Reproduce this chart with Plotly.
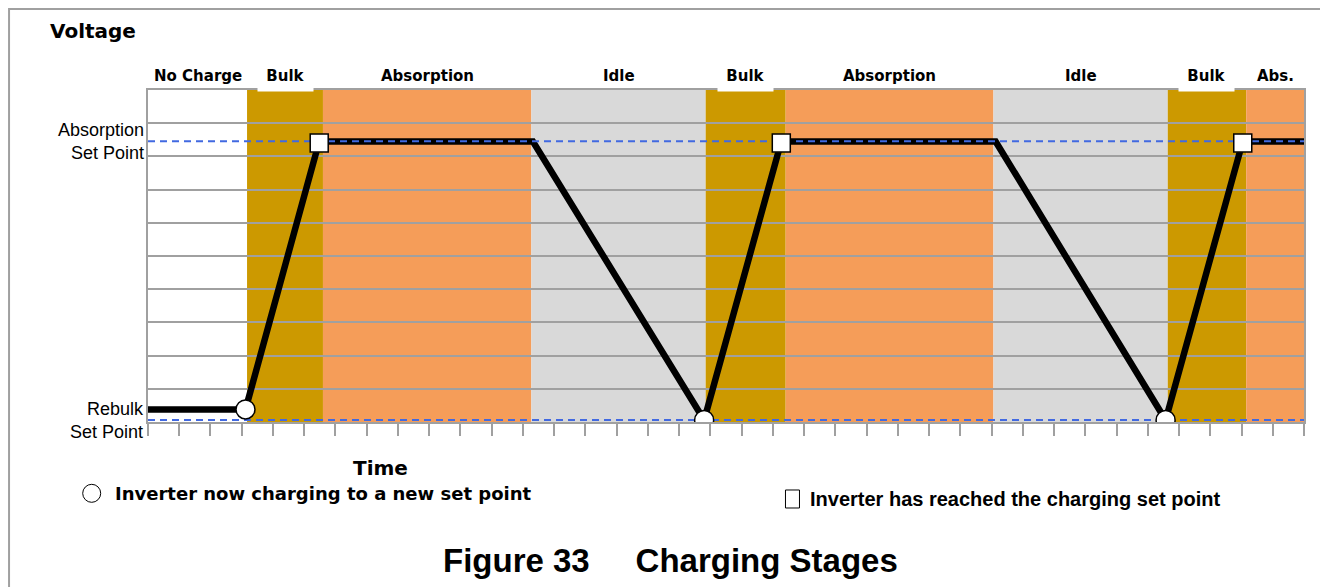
import plotly.graph_objects as go

# ---- data ----------------------------------------------------------------
# stage bands along the time axis (x in time units, 37 ticks across)
band_names = ["No Charge", "Bulk", "Absorption", "Idle", "Bulk",
              "Absorption", "Idle", "Bulk", "Abs."]
band_start = [0.0, 3.17, 5.60, 12.27, 17.85, 20.41, 27.06, 32.64, 35.15]
band_end = [3.17, 5.60, 12.27, 17.85, 20.41, 27.06, 32.64, 35.15, 37.0]
band_colors = ["#FFFFFF", "#CC9900", "#F59D59", "#D9D9D9", "#CC9900",
               "#F59D59", "#D9D9D9", "#CC9900", "#F59D59"]

# battery voltage trace
volt_x = [0.0, 3.12, 5.48, 12.32, 17.80, 20.27, 27.13, 32.57, 35.04, 37.0]
volt_y = [0.38, 0.38, 8.45, 8.45, 0.06, 8.45, 8.45, 0.06, 8.45, 8.45]

# set points
absorption_sp = 8.46
rebulk_sp = 0.06

# markers: circle = start charging, square = set point reached
circle_x = [3.12, 17.80, 32.57]
circle_y = [0.38, 0.06, 0.06]
square_x = [5.48, 20.27, 35.04]
square_y = [8.40, 8.40, 8.40]

X_MAX = 37
Y_MAX = 10

HEAVY = "DejaVu Sans"
NARROW = "Liberation Sans"
GRID = "#A0A0A0"
BLUE = "#4169E1"

fig = go.Figure()

# stage background bands
for x0, x1, c in zip(band_start, band_end, band_colors):
    fig.add_shape(type="rect", xref="x", yref="paper", x0=x0, x1=x1, y0=0, y1=1,
                  fillcolor=c, line_width=0, layer="below")

fig.add_trace(go.Scatter(x=volt_x, y=volt_y, mode="lines",
                         line=dict(color="black", width=6.5), hoverinfo="skip"))
for sp in (absorption_sp, rebulk_sp):
    fig.add_trace(go.Scatter(x=[0, X_MAX], y=[sp, sp], mode="lines",
                             line=dict(color=BLUE, width=2, dash="7px,5px"),
                             hoverinfo="skip"))
fig.add_trace(go.Scatter(x=circle_x, y=circle_y, mode="markers",
                         marker=dict(symbol="circle", size=19, color="white",
                                     line=dict(color="black", width=1.5))))
fig.add_trace(go.Scatter(x=square_x, y=square_y, mode="markers",
                         marker=dict(symbol="square", size=18, color="white",
                                     line=dict(color="black", width=1.5))))

# stage labels above the plot
for name, x0, x1 in zip(band_names, band_start, band_end):
    xc = (x0 + x1) / 2
    if name == "Bulk":
        # white box that hides the top border, like the original
        fig.add_annotation(x=xc, xref="x", xanchor="center", y=1, yref="paper",
                           yanchor="bottom", yshift=-2, text=name, showarrow=False,
                           width=53, height=28, bgcolor="white",
                           font=dict(family=HEAVY, size=15, weight="bold"))
    else:
        fig.add_annotation(x=xc, xref="x", xanchor="center", y=1.042, yref="paper",
                           yanchor="middle", text=name, showarrow=False,
                           font=dict(family=HEAVY, size=15, weight="bold"))

# set point labels on the left
for txt, yv in (("Absorption<br>Set Point", absorption_sp), ("Rebulk<br>Set Point", rebulk_sp)):
    fig.add_annotation(x=0, xref="paper", xanchor="right", xshift=-2, y=yv, yref="y",
                       yanchor="middle", align="right", text=txt, showarrow=False,
                       font=dict(family="Liberation Sans", size=18))

fig.add_annotation(x=-0.0865, xref="paper", xanchor="left", y=1.178, yref="paper",
                   yanchor="middle", text="Voltage", showarrow=False,
                   font=dict(family=HEAVY, size=20, weight="bold"))
fig.add_annotation(x=0.2007, xref="paper", xanchor="center", y=-0.1386, yref="paper",
                   yanchor="middle", text="Time", showarrow=False,
                   font=dict(family=HEAVY, size=20, weight="bold"))

# legend row
fig.add_shape(type="circle", xref="paper", yref="paper", xsizemode="pixel", ysizemode="pixel",
              xanchor=-0.0487, yanchor=-0.2148, x0=-9, x1=9, y0=-9, y1=9,
              line=dict(color="black", width=1), fillcolor="white")
fig.add_annotation(x=-0.0303, xref="paper", xanchor="left", y=-0.2148, yref="paper",
                   yanchor="middle", text="Inverter now charging to a new set point",
                   showarrow=False, font=dict(family=HEAVY, size=18, weight="bold"))
fig.add_shape(type="rect", xref="paper", yref="paper", xsizemode="pixel", ysizemode="pixel",
              xanchor=0.5575, yanchor=-0.2319, x0=-7, x1=7, y0=-9, y1=9,
              line=dict(color="black", width=1), fillcolor="white")
fig.add_annotation(x=0.5709, xref="paper", xanchor="left", y=-0.2319, yref="paper",
                   yanchor="middle", text="Inverter has reached the charging set point",
                   showarrow=False, font=dict(family=NARROW, size=20, weight="bold"))

# figure caption
fig.add_annotation(x=0.4516, xref="paper", xanchor="center", y=-0.4157, yref="paper",
                   yanchor="middle",
                   text="Figure 33\u00a0\u00a0\u00a0\u00a0\u00a0Charging Stages", showarrow=False,
                   font=dict(family=NARROW, size=33, weight="bold"))

# outer frame
fig.add_shape(type="rect", xref="paper", yref="paper", x0=-0.1202, x1=1.0156,
              y0=-0.6, y1=1.244, line=dict(color=GRID, width=2), layer="above")

fig.update_xaxes(range=[0, X_MAX], showgrid=False, zeroline=False, showticklabels=False,
                 ticks="outside", tick0=0, dtick=1, ticklen=12, tickwidth=1.5,
                 tickcolor=GRID, showline=True, linecolor=GRID, linewidth=1.5, mirror=True)
fig.update_yaxes(range=[0, Y_MAX], showgrid=True, gridcolor=GRID, gridwidth=1.5,
                 tick0=0, dtick=1, zeroline=False, showticklabels=False,
                 showline=True, linecolor=GRID, linewidth=1.5, mirror=True)

# page body has an 8px margin, so the figure is sized/offset to land on the window
fig.update_layout(width=1320, height=579, showlegend=False,
                  margin=dict(l=140, r=24, t=82, b=165),
                  font=dict(color="black"),
                  plot_bgcolor="white", paper_bgcolor="white")

fig.write_html("out.html")
